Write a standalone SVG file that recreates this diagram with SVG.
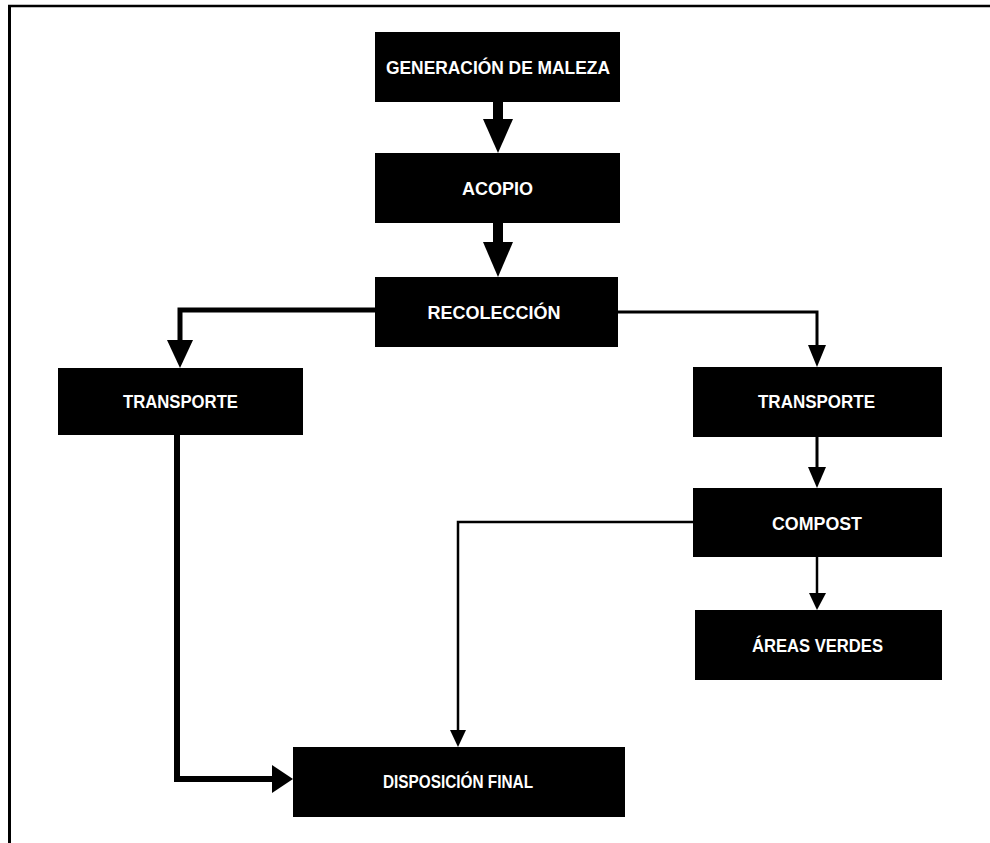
<svg xmlns="http://www.w3.org/2000/svg" width="990" height="843" viewBox="0 0 990 843">
<style>
.box{fill:#000}
.lbl{fill:#fff;font-family:"Liberation Sans",Arial,sans-serif;font-weight:bold;font-size:18px;text-anchor:middle}
.ln{fill:none;stroke:#000;stroke-linejoin:miter}
.hd{fill:#000}
</style>
<rect width="990" height="843" fill="#fff"/>
<g id="frame">
<line x1="8" y1="6" x2="990" y2="6" stroke="#000" stroke-width="2.5"/>
<line x1="9.5" y1="5" x2="9.5" y2="843" stroke="#000" stroke-width="3"/>
</g>
<g id="connectors">
<line class="ln" x1="498" y1="102" x2="498" y2="121" stroke-width="10"/>
<polygon class="hd" points="483,119 513,119 498,153"/>
<line class="ln" x1="498" y1="223" x2="498" y2="244" stroke-width="10"/>
<polygon class="hd" points="483,242 513,242 498,277"/>
<polyline class="ln" points="375,310 180,310 180,342" stroke-width="5"/>
<polygon class="hd" points="167,340 193,340 180,368"/>
<polyline class="ln" points="618,312 817,312 817,347" stroke-width="3"/>
<polygon class="hd" points="808,345 826,345 817,367"/>
<line class="ln" x1="817" y1="437" x2="817" y2="469" stroke-width="3"/>
<polygon class="hd" points="808,467 826,467 817,488"/>
<line class="ln" x1="817" y1="557" x2="817" y2="595" stroke-width="2.5"/>
<polygon class="hd" points="809,593 826,593 817,610"/>
<polyline class="ln" points="693,522 458,522 458,732" stroke-width="2.5"/>
<polygon class="hd" points="450,730 466,730 458,747"/>
<polyline class="ln" points="177,435 177,779 274,779" stroke-width="6"/>
<polygon class="hd" points="272,765 272,793 293,779"/>
</g>
<g id="n-generacion"><rect class="box" x="375" y="32" width="245" height="70"/><text class="lbl" x="498" y="74" textLength="224" lengthAdjust="spacingAndGlyphs">GENERACIÓN DE MALEZA</text></g>
<g id="n-acopio"><rect class="box" x="375" y="153" width="245" height="70"/><text class="lbl" x="497.5" y="194.5" textLength="71" lengthAdjust="spacingAndGlyphs">ACOPIO</text></g>
<g id="n-recoleccion"><rect class="box" x="375" y="277" width="243" height="70"/><text class="lbl" x="494" y="318.5" textLength="133" lengthAdjust="spacingAndGlyphs">RECOLECCIÓN</text></g>
<g id="n-transporte-l"><rect class="box" x="58" y="368" width="245" height="67"/><text class="lbl" x="180.5" y="408" textLength="115" lengthAdjust="spacingAndGlyphs">TRANSPORTE</text></g>
<g id="n-transporte-r"><rect class="box" x="693" y="367" width="249" height="70"/><text class="lbl" x="816.5" y="408" textLength="117" lengthAdjust="spacingAndGlyphs">TRANSPORTE</text></g>
<g id="n-compost"><rect class="box" x="693" y="488" width="249" height="69"/><text class="lbl" x="817" y="530" textLength="90" lengthAdjust="spacingAndGlyphs">COMPOST</text></g>
<g id="n-areas"><rect class="box" x="695" y="610" width="247" height="70"/><text class="lbl" x="817.5" y="652" textLength="131" lengthAdjust="spacingAndGlyphs">ÁREAS VERDES</text></g>
<g id="n-disposicion"><rect class="box" x="293" y="747" width="332" height="70"/><text class="lbl" x="458" y="788" textLength="150" lengthAdjust="spacingAndGlyphs">DISPOSICIÓN FINAL</text></g>
</svg>
